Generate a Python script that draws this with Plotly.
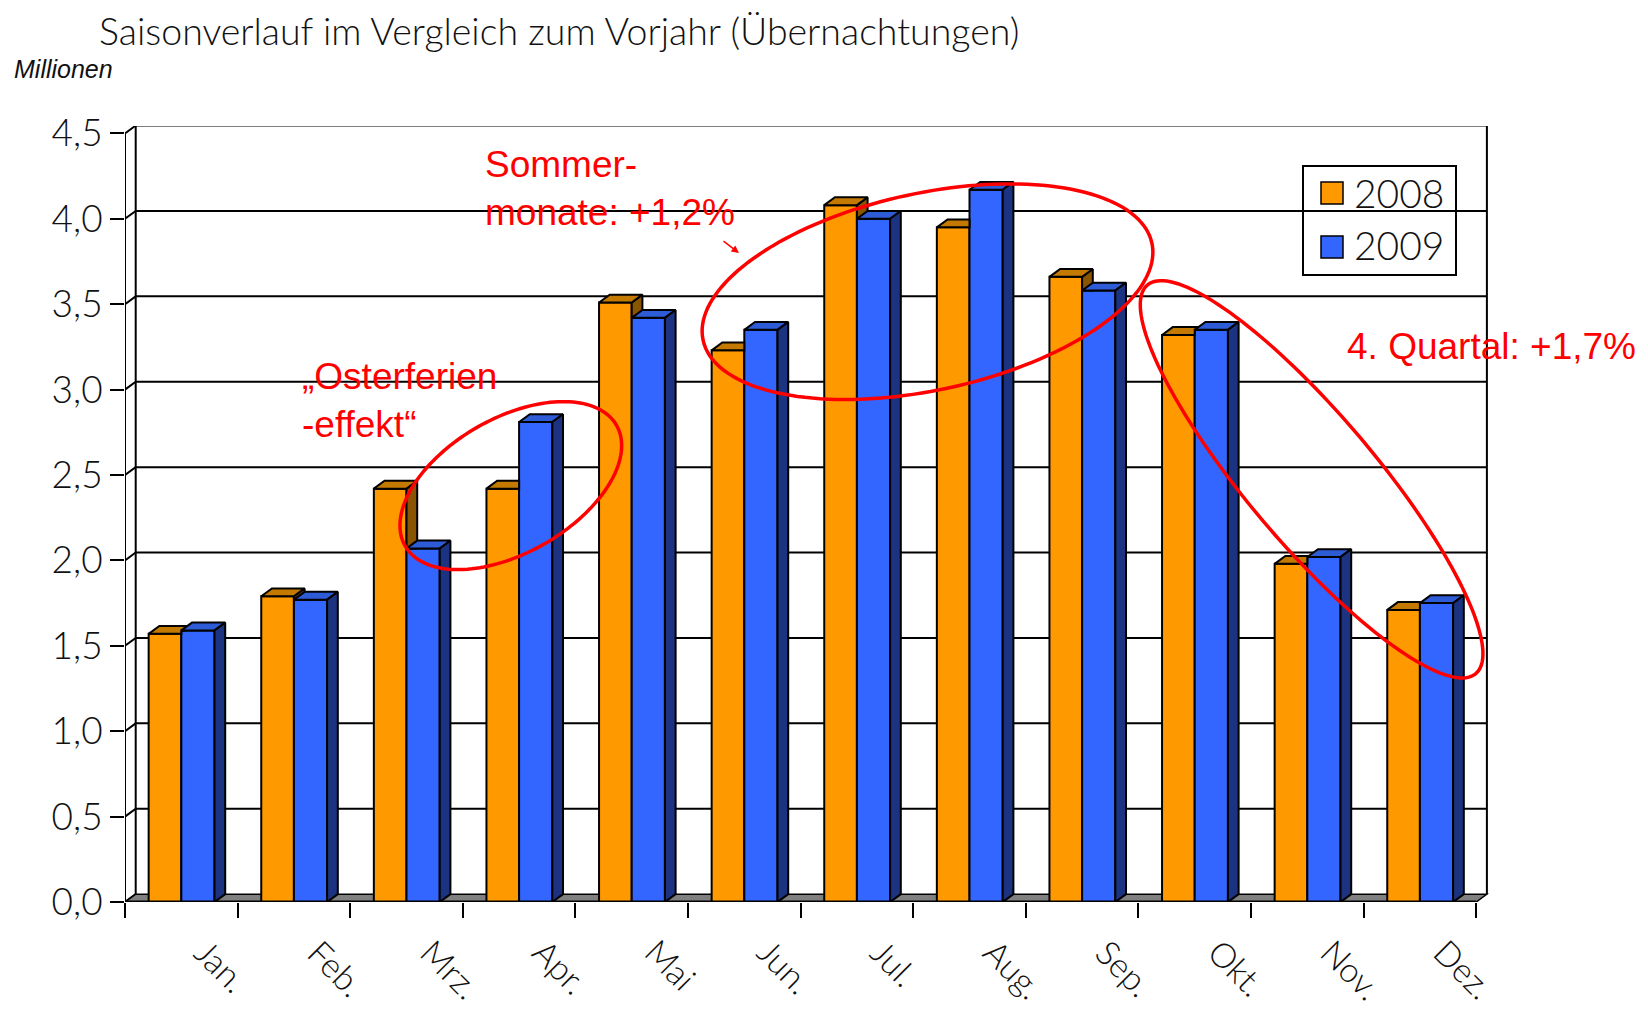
import numpy as np
import plotly.graph_objects as go

# ---------------- data ----------------
months = ["Jan.", "Feb.", "Mrz.", "Apr.", "Mai", "Jun.", "Jul.", "Aug.", "Sep.", "Okt.", "Nov.", "Dez."]
series_names = ["2008", "2009"]
v2008 = [1.57, 1.79, 2.42, 2.42, 3.51, 3.23, 4.08, 3.95, 3.66, 3.32, 1.98, 1.71]
v2009 = [1.59, 1.77, 2.07, 2.81, 3.42, 3.35, 4.00, 4.17, 3.58, 3.35, 2.02, 1.75]
ytick_vals = [0.0, 0.5, 1.0, 1.5, 2.0, 2.5, 3.0, 3.5, 4.0, 4.5]
ytick_text = ["0,0", "0,5", "1,0", "1,5", "2,0", "2,5", "3,0", "3,5", "4,0", "4,5"]
title_text = "Saisonverlauf im Vergleich zum Vorjahr (Übernachtungen)"
unit_text = "Millionen"
note_summer = "Sommer-<br>monate: +1,2%"
note_easter = "„Osterferien<br>-effekt“"
note_q4 = "4. Quartal: +1,7%"

# ---------------- styling / geometry ----------------
OFF = 8                      # body margin of the html page
W, H = 1640, 1003
ML, MR, MT, MB = 117, 159, 118, 109
PW, PH = W - ML - MR, H - MT - MB
PLOT_BOTTOM_PAGE = H - MB + OFF
CAT_PX = 112.6
Y_PX = 170.8
X0 = -0.5
XMAX = X0 + PW / CAT_PX
YMAX = PH / Y_PX
DX, DY = 0.095, 0.046   # 3D depth offsets in data units
YTOP = 4.5

ORANGE, ORANGE_TOP, ORANGE_SIDE = "#FF9900", "#C47A00", "#8A5500"
BLUE, BLUE_TOP, BLUE_SIDE = "#3366FF", "#2E5CD6", "#1B3380"
FONT = "Lato"
RED = "#FF0000"

OFF_O, W_O = -0.29, 0.29
OFF_B, W_B = 0.0, 0.295


def px(x):  # page pixel -> paper
    return (x - OFF - ML) / PW


def py(y):
    return (PLOT_BOTTOM_PAGE - y) / PH


fig = go.Figure()

# front faces
fig.add_trace(go.Bar(x=list(range(12)), y=v2008, name=series_names[0], offset=OFF_O, width=W_O,
                     marker=dict(color=ORANGE, line=dict(color="black", width=2)), showlegend=False))
fig.add_trace(go.Bar(x=list(range(12)), y=v2009, name=series_names[1], offset=OFF_B, width=W_B,
                     marker=dict(color=BLUE, line=dict(color="black", width=2)), showlegend=False))


def polys_to_xy(polys):
    xs, ys = [], []
    for p in polys:
        for (a, b) in p:
            xs.append(a)
            ys.append(b)
        xs.append(p[0][0]); ys.append(p[0][1])
        xs.append(None); ys.append(None)
    return xs, ys


o_side, o_top, b_top, b_side = [], [], [], []
for i, (o, b) in enumerate(zip(v2008, v2009)):
    xL = i + OFF_O
    xR = xL + W_O
    if o > b:
        o_side.append([(xR, b), (xR, o), (xR + DX, o + DY), (xR + DX, b)])
    if b <= o:
        o_top.append([(xL, o), (xR, o), (xR + DX, o + DY), (xL + DX, o + DY)])
    elif b >= o + DY:
        o_top.append([(xL, o), (xR, o), (xR, o + DY), (xL + DX, o + DY)])
    else:
        t = (b - o) / DY
        o_top.append([(xL, o), (xR, o), (xR, b), (xR + DX * t, b), (xR + DX, o + DY), (xL + DX, o + DY)])
    bL = i + OFF_B
    bR = bL + W_B
    b_top.append([(bL, b), (bR, b), (bR + DX, b + DY), (bL + DX, b + DY)])
    b_side.append([(bR, 0), (bR, b), (bR + DX, b + DY), (bR + DX, DY)])

for polys, col in [(o_side, ORANGE_SIDE), (o_top, ORANGE_TOP), (b_top, BLUE_TOP), (b_side, BLUE_SIDE)]:
    xs, ys = polys_to_xy(polys)
    fig.add_trace(go.Scatter(x=xs, y=ys, mode="lines", fill="toself", fillcolor=col,
                             line=dict(color="black", width=2), showlegend=False, hoverinfo="skip"))

# ---------------- frame shapes ----------------
shapes = []
for v in ytick_vals[1:]:
    shapes.append(dict(type="line", xref="x", yref="y", x0=X0 + DX, x1=11.5 + DX, y0=v + DY, y1=v + DY,
                       line=dict(color="black", width=2), layer="below"))
for v in ytick_vals:
    shapes.append(dict(type="line", xref="x", yref="y", x0=X0, x1=X0 + DX, y0=v, y1=v + DY,
                       line=dict(color="black", width=2), layer="below"))
for xv in [X0 + DX, 11.5 + DX]:
    shapes.append(dict(type="line", xref="x", yref="y", x0=xv, x1=xv, y0=DY, y1=YTOP + DY,
                       line=dict(color="black", width=2), layer="below"))
shapes.append(dict(type="line", xref="x", yref="y", x0=X0, x1=X0, y0=0, y1=YTOP,
                   line=dict(color="black", width=2), layer="below"))
shapes.append(dict(type="path", xref="x", yref="y",
                   path=f"M {X0},0 L 11.5,0 L {11.5 + DX},{DY} L {X0 + DX},{DY} Z",
                   fillcolor="#808080", line=dict(color="black", width=1.5), layer="below"))
for (x0p, y0p, x1p, y1p) in [(462, 140, 759, 232), (289, 350, 526, 446), (1335, 313, 1640, 378)]:
    shapes.append(dict(type="rect", xref="paper", yref="paper", x0=px(x0p), x1=px(x1p), y0=py(y1p), y1=py(y0p),
                       fillcolor="white", line=dict(width=0), layer="below"))
shapes.append(dict(type="rect", xref="paper", yref="paper", x0=px(1303), x1=px(1456), y0=py(275), y1=py(166),
                   fillcolor="white", line=dict(color="black", width=2), layer="below"))
shapes.append(dict(type="rect", xref="paper", yref="paper", x0=px(1321), x1=px(1343), y0=py(204), y1=py(182),
                   fillcolor=ORANGE, line=dict(color="black", width=1.5), layer="below"))
shapes.append(dict(type="rect", xref="paper", yref="paper", x0=px(1321), x1=px(1343), y0=py(258), y1=py(236),
                   fillcolor=BLUE, line=dict(color="black", width=1.5), layer="below"))
shapes.append(dict(type="line", xref="x", yref="y", x0=X0, x1=11.5, y0=0, y1=0,
                   line=dict(color="black", width=3), layer="above"))


def ellipse_path(cx, cy, a, b, theta_deg, n=160):
    th = np.radians(theta_deg)
    pts = []
    for k in range(n):
        t = 2 * np.pi * k / n
        ex, ey = a * np.cos(t), b * np.sin(t)
        X = cx + ex * np.cos(th) - ey * np.sin(th)
        Y = cy - (ex * np.sin(th) + ey * np.cos(th))
        pts.append((px(X), py(Y)))
    return "M " + " L ".join(f"{x:.5f},{y:.5f}" for x, y in pts) + " Z"


for (cx, cy, a, b, th) in [(510.8, 485.6, 121.7, 67.3, 29.7),
                           (927.5, 291.7, 229.6, 98.5, 12.2),
                           (1311.6, 479.3, 254.4, 64.0, -49.8)]:
    shapes.append(dict(type="path", xref="paper", yref="paper", path=ellipse_path(cx, cy, a, b, th),
                       line=dict(color=RED, width=3.5), layer="above"))

# ---------------- annotations ----------------
ann = []
ann.append(dict(text=title_text, x=px(98), y=py(30), xref="paper", yref="paper", xanchor="left",
                yanchor="middle", showarrow=False, borderpad=0,
                font=dict(family=FONT, size=37.5, color="#111", weight=300)))
ann.append(dict(text=unit_text, x=px(12), y=py(69), xref="paper", yref="paper", xanchor="left",
                yanchor="middle", showarrow=False,
                font=dict(family="Liberation Sans", size=25, color="#111", style="italic")))
for i, m in enumerate(months):
    ann.append(dict(text=m, x=i + 0.03, y=py(928), xref="x", yref="paper", xanchor="left", yanchor="top",
                    textangle=45, showarrow=False, font=dict(family=FONT, size=34, color="#111", weight=300)))
red_font = dict(family="Liberation Sans", size=37, color=RED)
ann.append(dict(text=note_summer, x=px(483), y=py(188), xref="paper", yref="paper", xanchor="left",
                yanchor="middle", align="left", showarrow=False, font=red_font))
ann.append(dict(text=note_easter, x=px(300), y=py(400), xref="paper", yref="paper", xanchor="left",
                yanchor="middle", align="left", showarrow=False, font=red_font))
ann.append(dict(text=note_q4, x=px(1345), y=py(346), xref="paper", yref="paper", xanchor="left",
                yanchor="middle", align="left", showarrow=False, font=red_font))
ann.append(dict(text="", x=px(739), y=py(253), xref="paper", yref="paper", showarrow=True,
                ax=-17, ay=-13, arrowhead=2, arrowsize=1, arrowwidth=1.5, arrowcolor=RED))
for name, yc in zip(series_names, [193, 245]):
    ann.append(dict(text=name, x=px(1352), y=py(yc), xref="paper", yref="paper", xanchor="left",
                    yanchor="middle", showarrow=False, font=dict(family=FONT, size=39, color="#111", weight=300)))

fig.update_layout(
    width=W, height=H,
    margin=dict(l=ML, r=MR, t=MT, b=MB, pad=0),
    paper_bgcolor="white", plot_bgcolor="white",
    barmode="overlay", hovermode=False, showlegend=False,
    shapes=shapes, annotations=ann,
    xaxis=dict(range=[X0, XMAX], tickmode="array", tickvals=[k - 0.5 for k in range(13)],
               showticklabels=False, ticks="outside", ticklen=15, tickwidth=2, tickcolor="black",
               showgrid=False, zeroline=False, showline=False, fixedrange=True),
    yaxis=dict(range=[0, YMAX], tickmode="array", tickvals=ytick_vals, ticktext=ytick_text,
               ticks="outside", ticklen=14, tickwidth=2, tickcolor="black",
               tickfont=dict(family=FONT, size=37, color="#111", weight=300),
               showgrid=False, zeroline=False, showline=False, fixedrange=True),
)

fig.write_html("out.html")
